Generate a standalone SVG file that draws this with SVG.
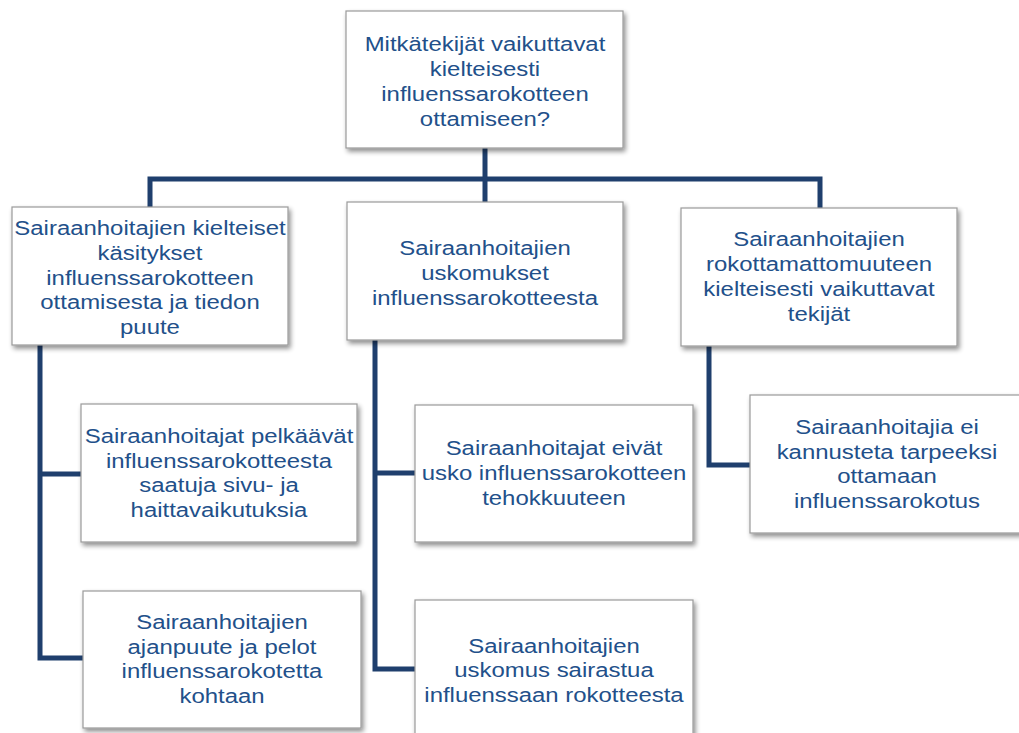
<svg xmlns="http://www.w3.org/2000/svg" width="1019" height="733" viewBox="0 0 1019 733">
<defs>
<filter id="sh" x="-10%" y="-10%" width="125%" height="130%">
<feGaussianBlur in="SourceAlpha" stdDeviation="2.5"/>
<feOffset dx="2" dy="3" result="b"/>
<feComponentTransfer><feFuncA type="linear" slope="0.45"/></feComponentTransfer>
<feMerge><feMergeNode/><feMergeNode in="SourceGraphic"/></feMerge>
</filter>
</defs>
<style>
.box{fill:#ffffff;stroke:#9a9a9a;stroke-width:1.2;filter:url(#sh)}
.t{font-family:"Liberation Sans",Arial,sans-serif;font-size:21px;fill:#22508a;text-anchor:middle}
.c{fill:none;stroke:#1f3f6d;stroke-width:5;stroke-linejoin:miter}
</style>
<rect width="1019" height="733" fill="#ffffff"/>
<g id="connectors">
<path class="c" d="M485,148 V179"/>
<path class="c" d="M150,207 V179 H820 V208"/>
<path class="c" d="M485,179 V202"/>
<path class="c" d="M40,345 V658 H83"/>
<path class="c" d="M40,474 H81"/>
<path class="c" d="M375,340 V669 H415"/>
<path class="c" d="M375,473 H415"/>
<path class="c" d="M709,346 V465 H750"/>
</g>
<g id="n0">
<rect class="box" x="346" y="11" width="277" height="137"/>
<text class="t" transform="translate(485,0) scale(1.14,1)"><tspan x="0" y="51">Mitkätekijät vaikuttavat</tspan><tspan x="0" y="76">kielteisesti</tspan><tspan x="0" y="101">influenssarokotteen</tspan><tspan x="0" y="126">ottamiseen?</tspan></text>
</g>
<g id="n1">
<rect class="box" x="12" y="207" width="276" height="138"/>
<text class="t" transform="translate(150,0) scale(1.14,1)"><tspan x="0" y="235">Sairaanhoitajien kielteiset</tspan><tspan x="0" y="260">käsitykset</tspan><tspan x="0" y="285">influenssarokotteen</tspan><tspan x="0" y="309">ottamisesta ja tiedon</tspan><tspan x="0" y="334">puute</tspan></text>
</g>
<g id="n2">
<rect class="box" x="347" y="202" width="276" height="138"/>
<text class="t" transform="translate(485,0) scale(1.14,1)"><tspan x="0" y="255">Sairaanhoitajien</tspan><tspan x="0" y="280">uskomukset</tspan><tspan x="0" y="305">influenssarokotteesta</tspan></text>
</g>
<g id="n3">
<rect class="box" x="681" y="208" width="276" height="138"/>
<text class="t" transform="translate(819,0) scale(1.14,1)"><tspan x="0" y="246">Sairaanhoitajien</tspan><tspan x="0" y="271">rokottamattomuuteen</tspan><tspan x="0" y="296">kielteisesti vaikuttavat</tspan><tspan x="0" y="321">tekijät</tspan></text>
</g>
<g id="n4">
<rect class="box" x="81" y="404" width="276" height="138"/>
<text class="t" transform="translate(219,0) scale(1.14,1)"><tspan x="0" y="443">Sairaanhoitajat pelkäävät</tspan><tspan x="0" y="468">influenssarokotteesta</tspan><tspan x="0" y="492">saatuja sivu- ja</tspan><tspan x="0" y="517">haittavaikutuksia</tspan></text>
</g>
<g id="n5">
<rect class="box" x="83" y="591" width="278" height="137"/>
<text class="t" transform="translate(222,0) scale(1.14,1)"><tspan x="0" y="629">Sairaanhoitajien</tspan><tspan x="0" y="654">ajanpuute ja pelot</tspan><tspan x="0" y="678">influenssarokotetta</tspan><tspan x="0" y="703">kohtaan</tspan></text>
</g>
<g id="n6">
<rect class="box" x="415" y="405" width="278" height="137"/>
<text class="t" transform="translate(554,0) scale(1.14,1)"><tspan x="0" y="455">Sairaanhoitajat eivät</tspan><tspan x="0" y="480">usko influenssarokotteen</tspan><tspan x="0" y="505">tehokkuuteen</tspan></text>
</g>
<g id="n7">
<rect class="box" x="415" y="600" width="278" height="140"/>
<text class="t" transform="translate(554,0) scale(1.14,1)"><tspan x="0" y="653">Sairaanhoitajien</tspan><tspan x="0" y="677">uskomus sairastua</tspan><tspan x="0" y="702">influenssaan rokotteesta</tspan></text>
</g>
<g id="n8">
<rect class="box" x="750" y="395" width="275" height="138"/>
<text class="t" transform="translate(887,0) scale(1.14,1)"><tspan x="0" y="434">Sairaanhoitajia ei</tspan><tspan x="0" y="459">kannusteta tarpeeksi</tspan><tspan x="0" y="483">ottamaan</tspan><tspan x="0" y="508">influenssarokotus</tspan></text>
</g>
</svg>
